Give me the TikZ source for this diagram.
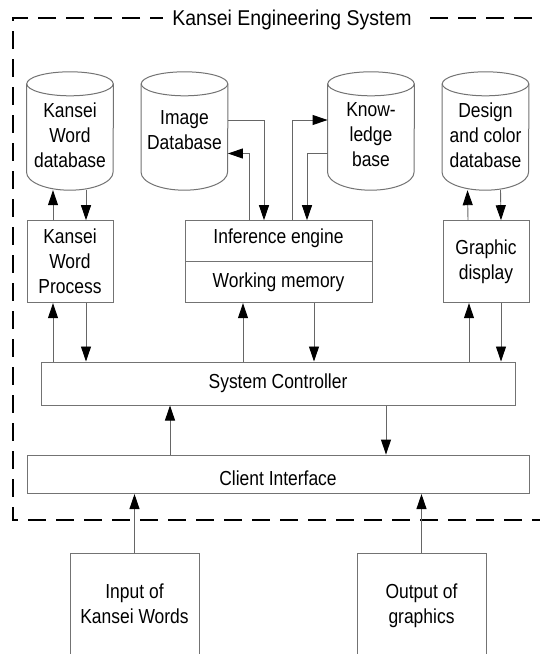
\documentclass[tikz,border=0pt]{standalone}
\usepackage{fontspec}
\setmainfont[FakeStretch=0.86]{Liberation Sans}
\newfontfamily\titlefont[FakeStretch=0.91]{Liberation Sans}
\usetikzlibrary{arrows.meta,calc}
\newcommand\dbshape[1]{%
  \draw[cylline] (#1.north) ellipse [x radius=43.25pt, y radius=12pt];
  \draw[cylline] (#1.north west) -- ([yshift=18pt]#1.south west)
     arc[start angle=180, end angle=360, x radius=43.25pt, y radius=18pt] -- (#1.north east);
}
\begin{document}
\begin{tikzpicture}[x=1pt,y=-1pt,
  every node/.style={font=\fontsize{20.3}{25}\selectfont, inner sep=0pt, align=center},
  box/.style={draw=black!55, line width=1pt},
  cylline/.style={draw=black!55, line width=1pt},
  dbbody/.style={minimum width=86.5pt, minimum height=106pt, text depth=4pt},
  arr/.style={draw=black!60, line width=0.9pt, -{Triangle[length=15pt,width=10pt,color=black]}},
  frame/.style={draw=black, line width=2.6pt, dash pattern=on 18pt off 10pt}]
\useasboundingbox (0,0) rectangle (540,654);
\fill[white] (0,0) rectangle (540,654);
\clip (0,0) rectangle (540,654);

% dashed system frame
\draw[frame] (560,18) -- (13,18) -- (13,520) -- (560,520);
\node[fill=white, inner xsep=9pt, inner ysep=3pt, font=\titlefont\fontsize{21.4}{24}\selectfont] (title) at (292,20.2) {Kansei Engineering System};

% databases
\node[dbbody] (kwdb) at (70,137) {Kansei\\Word\\database};
\node[dbbody, text depth=14pt] (imgdb) at (184.5,137) {Image\\Database};
\node[dbbody] (kb) at (371,137) {Know-\\ledge\\base};
\node[dbbody] (dcdb) at (485.5,137) {Design\\and color\\database};
\dbshape{kwdb}
\dbshape{imgdb}
\dbshape{kb}
\dbshape{dcdb}

% middle boxes
\node[box, minimum width=86pt, minimum height=82pt] (kwp) at (70,261.7) {Kansei\\Word\\Process};
\node[box, minimum width=187pt, minimum height=41.2pt, text depth=10.9pt] (inf) at (278.5,241.3) {Inference engine};
\node[box, minimum width=187pt, minimum height=40.8pt] (wm) at (278.5,282.3) {Working memory};
\node[box, minimum width=86pt, minimum height=82pt] (gd) at (486,261.7) {Graphic\\display};

\node[box, minimum width=474pt, minimum height=43pt] (sc) at (278,383.5) {System Controller};
\node[box, minimum width=502pt, minimum height=38.5pt, text height=22pt] (ci) at (278,474.3) {Client Interface};

\node[box, minimum width=129pt, minimum height=107pt, text depth=6.5pt] (inp) at (134.5,606.5) {Input of\\Kansei Words};
\node[box, minimum width=129pt, minimum height=107pt, text depth=6.5pt] (outp) at (421.5,606.5) {Output of\\graphics};

% database <-> process arrows
\draw[arr] ([xshift=-17pt]kwp.north) -- ([xshift=-17pt]kwdb.south);
\draw[arr] ([xshift=16pt]kwdb.south) -- ([xshift=16pt]kwp.north);
\draw[arr] ([xshift=-18pt]gd.north) -- ([xshift=-18pt]dcdb.south);
\draw[arr] ([xshift=15pt]dcdb.south) -- ([xshift=15pt]gd.north);

% inference engine <-> image database / knowledge base
\draw[arr] ([yshift=17pt]imgdb.east) -| ([xshift=-14.5pt]inf.north);
\draw[arr] ([xshift=-29.5pt]inf.north) |- ([yshift=-16.5pt]imgdb.east);
\draw[arr] ([xshift=13.5pt]inf.north) |- ([yshift=17pt]kb.west);
\draw[arr] ([yshift=-16.5pt]kb.west) -| ([xshift=28.5pt]inf.north);

% to/from system controller
\draw[arr] ([xshift=-17pt]kwp.south |- sc.north) -- ([xshift=-17pt]kwp.south);
\draw[arr] ([xshift=16pt]kwp.south) -- ([xshift=16pt]kwp.south |- sc.north);
\draw[arr] ([xshift=-35.5pt]wm.south |- sc.north) -- ([xshift=-35.5pt]wm.south);
\draw[arr] ([xshift=35.5pt]wm.south) -- ([xshift=35.5pt]wm.south |- sc.north);
\draw[arr] ([xshift=-17pt]gd.south |- sc.north) -- ([xshift=-17pt]gd.south);
\draw[arr] ([xshift=15pt]gd.south) -- ([xshift=15pt]gd.south |- sc.north);

% system controller <-> client interface
\draw[arr] ([xshift=-108pt]ci.north) -- ([xshift=-108pt]sc.south);
\draw[arr] ([xshift=108pt]sc.south) -- ([xshift=108pt]ci.north);

% inputs/outputs
\draw[arr] (inp.north) -- (inp.north |- ci.south);
\draw[arr] (outp.north) -- (outp.north |- ci.south);
\end{tikzpicture}
\end{document}
